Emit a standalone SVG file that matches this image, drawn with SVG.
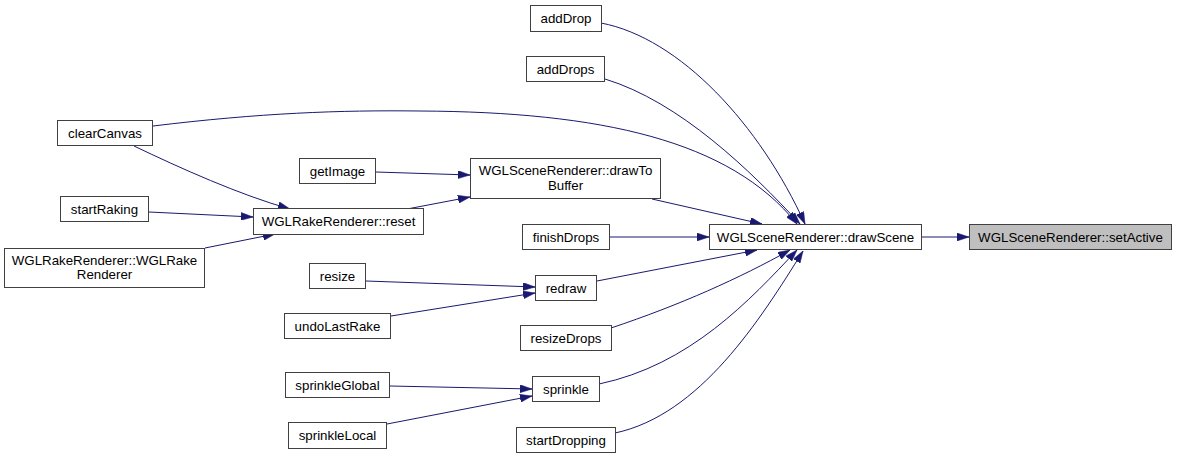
<svg xmlns="http://www.w3.org/2000/svg" width="1177" height="459" viewBox="0 0 1177 459">
<style>
.n rect{fill:#fff;stroke:#404040;stroke-width:1}
.n text{font-family:"Liberation Sans",Arial,sans-serif;font-size:13.3px;text-anchor:middle;fill:#000}
.e path{fill:none;stroke:#191970;stroke-width:1}
</style>
<defs>
<marker id="a" markerUnits="userSpaceOnUse" markerWidth="12" markerHeight="8" refX="12" refY="4" orient="auto">
<path d="M0,0 L12,4 L0,8 z" fill="#191970" stroke="#191970" stroke-width="0.5"/>
</marker>
</defs>
<rect width="1177" height="459" fill="#fff"/>
<g id="edges" class="e">
<path marker-end="url(#a)" d="M921,237 L969,237"/>
<path marker-end="url(#a)" d="M601,23 C680,38 760,125 805,224"/>
<path marker-end="url(#a)" d="M605,79 C680,102 750,170 800,224"/>
<path marker-end="url(#a)" d="M153,126 C260,113 340,110 420,111 C600,112 730,140 797,224"/>
<path marker-end="url(#a)" d="M652,199 L762,224"/>
<path marker-end="url(#a)" d="M609,237 L709,237"/>
<path marker-end="url(#a)" d="M597,281 L757,250"/>
<path marker-end="url(#a)" d="M611,328 C680,305 740,278 790,250"/>
<path marker-end="url(#a)" d="M599,384 C690,365 750,300 797,250"/>
<path marker-end="url(#a)" d="M615,433 C700,415 760,320 803,251"/>
<path marker-end="url(#a)" d="M376,172 L470,175"/>
<path marker-end="url(#a)" d="M407,209 L470,197"/>
<path marker-end="url(#a)" d="M134,146 C180,168 240,195 290,209"/>
<path marker-end="url(#a)" d="M149,212 L253,217"/>
<path marker-end="url(#a)" d="M205,248 L275,234"/>
<path marker-end="url(#a)" d="M366,281 L535,287"/>
<path marker-end="url(#a)" d="M391,316 L535,293"/>
<path marker-end="url(#a)" d="M390,386 L532,389"/>
<path marker-end="url(#a)" d="M387,424 L532,396"/>
</g>
<g id="setActive" class="n"><rect x="969.5" y="224.5" width="202" height="25" style="fill:#bfbfbf"/><text x="1070.5" y="241.5">WGLSceneRenderer::setActive</text></g>
<g id="drawScene" class="n"><rect x="709.5" y="224.5" width="212" height="25"/><text x="815.5" y="241.5">WGLSceneRenderer::drawScene</text></g>
<g id="addDrop" class="n"><rect x="530.5" y="5.5" width="71" height="26"/><text x="566" y="23">addDrop</text></g>
<g id="addDrops" class="n"><rect x="526.5" y="56.5" width="78" height="25"/><text x="565.5" y="73.5">addDrops</text></g>
<g id="clearCanvas" class="n"><rect x="57.5" y="120.5" width="95" height="25"/><text x="105" y="137.5">clearCanvas</text></g>
<g id="drawToBuffer" class="n"><rect x="470.5" y="158.5" width="190" height="40"/><text x="565.5" y="175">WGLSceneRenderer::drawTo</text><text x="565.5" y="189.5">Buffer</text></g>
<g id="getImage" class="n"><rect x="299.5" y="158.5" width="76" height="25"/><text x="337.5" y="175.5">getImage</text></g>
<g id="finishDrops" class="n"><rect x="522.5" y="224.5" width="87" height="25"/><text x="566" y="241.5">finishDrops</text></g>
<g id="reset" class="n"><rect x="253.5" y="208.5" width="170" height="26"/><text x="338.5" y="226">WGLRakeRenderer::reset</text></g>
<g id="startRaking" class="n"><rect x="60.5" y="196.5" width="88" height="25"/><text x="104.5" y="213.5">startRaking</text></g>
<g id="rakeCtor" class="n"><rect x="4.5" y="248.5" width="200" height="39"/><text x="104.5" y="264.5">WGLRakeRenderer::WGLRake</text><text x="104.5" y="279">Renderer</text></g>
<g id="redraw" class="n"><rect x="535.5" y="275.5" width="61" height="25"/><text x="566" y="292.5">redraw</text></g>
<g id="resize" class="n"><rect x="309.5" y="263.5" width="56" height="25"/><text x="337.5" y="280.5">resize</text></g>
<g id="undoLastRake" class="n"><rect x="284.5" y="313.5" width="106" height="25"/><text x="337.5" y="330.5">undoLastRake</text></g>
<g id="resizeDrops" class="n"><rect x="520.5" y="325.5" width="91" height="25"/><text x="566" y="342.5">resizeDrops</text></g>
<g id="sprinkle" class="n"><rect x="532.5" y="376.5" width="67" height="25"/><text x="566" y="393.5">sprinkle</text></g>
<g id="sprinkleGlobal" class="n"><rect x="285.5" y="372.5" width="104" height="25"/><text x="337.5" y="389.5">sprinkleGlobal</text></g>
<g id="sprinkleLocal" class="n"><rect x="288.5" y="422.5" width="98" height="26"/><text x="337.5" y="440">sprinkleLocal</text></g>
<g id="startDropping" class="n"><rect x="516.5" y="427.5" width="99" height="25"/><text x="566" y="444.5">startDropping</text></g>
</svg>
